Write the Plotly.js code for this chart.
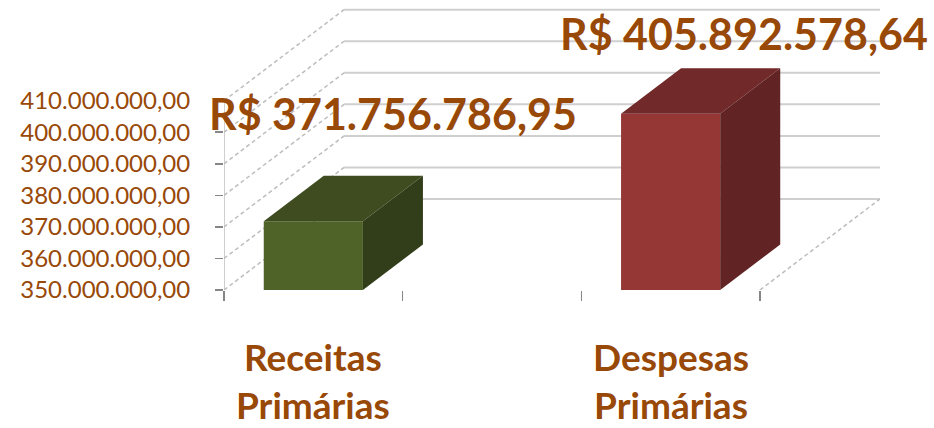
<!DOCTYPE html>
<html>
<head>
<meta charset="utf-8">
<script src="https://cdn.plot.ly/plotly-3.0.1.min.js"></script>
<style>html,body{margin:0;padding:0;background:#fff;}#chart{width:934px;height:428px;}</style>
</head>
<body>
<div id="chart"></div>
<script>
// ---- data ----
const categorySlots = ['Receitas<br>Primárias', '', 'Despesas<br>Primárias'];
const values = [371756786.95, null, 405892578.64];
const valueLabels = ['R$ 371.756.786,95', '', 'R$ 405.892.578,64'];
const yTickValues = [350000000, 360000000, 370000000, 380000000, 390000000, 400000000, 410000000];
const yTickLabels = ['350.000.000,00', '360.000.000,00', '370.000.000,00', '380.000.000,00', '390.000.000,00', '400.000.000,00', '410.000.000,00'];

// ---- styling / layout constants ----
const frontColors = ['#4F6228', null, '#953735'];
const topColors = ['#3E4C20', null, '#712929'];
const sideColors = ['#323E19', null, '#612323'];
const textColor = '#984807';
const yMin = 350000000, yMax = 440000000;
const nSlots = categorySlots.length;
const depthX = 0.672;          // wall depth in x units
const depthY = 28830000;       // wall depth in y units
const barWidth = 0.555;
const barDX = depthX * 0.5, barDY = depthY * 0.5;
const labelOffsets = [[0.446, 34300000], null, [0.41, 25500000]];

const xs = [], ys = [], cols = [];
values.forEach((v, i) => { if (v !== null) { xs.push(i + 0.5); ys.push(v); cols.push(frontColors[i]); } });

const shapes = [];
// back wall gridlines and left wall dashed lines
yTickValues.forEach(v => {
  shapes.push({type: 'line', layer: 'below', xref: 'x', yref: 'y', x0: depthX, x1: nSlots + depthX, y0: v + depthY, y1: v + depthY,
    line: {color: '#cfcfcf', width: 2}});
  shapes.push({type: 'line', layer: 'below', xref: 'x', yref: 'y', x0: 0, x1: depthX, y0: v, y1: v + depthY,
    line: {color: '#bdbdbd', width: 1.5, dash: '4px,3px'}});
});
// floor right edge
shapes.push({type: 'line', layer: 'below', xref: 'x', yref: 'y', x0: nSlots, x1: nSlots + depthX, y0: yMin, y1: yMin + depthY,
  line: {color: '#bdbdbd', width: 1.5, dash: '4px,3px'}});
// y axis line
shapes.push({type: 'line', layer: 'below', xref: 'x', yref: 'y', x0: 0, x1: 0, y0: yMin, y1: yTickValues[yTickValues.length - 1],
  line: {color: '#bfbfbf', width: 1.5}});

// 3D faces of bars
values.forEach((v, i) => {
  if (v === null) return;
  const x0 = i + 0.5 - barWidth / 2, x1 = i + 0.5 + barWidth / 2;
  shapes.push({type: 'path', layer: 'above', xref: 'x', yref: 'y',
    path: `M ${x0} ${v} L ${x1} ${v} L ${x1 + barDX} ${v + barDY} L ${x0 + barDX} ${v + barDY} Z`,
    fillcolor: topColors[i], line: {width: 0}});
  shapes.push({type: 'path', layer: 'above', xref: 'x', yref: 'y',
    path: `M ${x1} ${yMin} L ${x1} ${v} L ${x1 + barDX} ${v + barDY} L ${x1 + barDX} ${yMin + barDY} Z`,
    fillcolor: sideColors[i], line: {width: 0}});
});

const annotations = [];
values.forEach((v, i) => {
  if (v === null) return;
  annotations.push({xref: 'x', yref: 'y', x: i + 0.5 + labelOffsets[i][0], y: v + labelOffsets[i][1],
    text: valueLabels[i], showarrow: false, xanchor: 'center', yanchor: 'middle',
    font: {family: 'Lato', size: 43, color: textColor, weight: 'bold'}});
});
categorySlots.forEach((c, i) => {
  if (!c) return;
  annotations.push({xref: 'x', yref: 'paper', x: i + 0.5, y: 0, yanchor: 'top', xanchor: 'center', yshift: -42,
    text: '<b>' + c.replace('<br>', '</b><br><b>') + '</b>', showarrow: false,
    font: {family: 'Lato', size: 37, color: textColor}});
});

const trace = {type: 'bar', x: xs, y: ys, width: barWidth, marker: {color: cols, line: {width: 0}}, hoverinfo: 'skip'};

const layout = {
  width: 934, height: 428,
  margin: {l: 224, r: 54, t: 6, b: 138},
  paper_bgcolor: '#fff', plot_bgcolor: 'rgba(0,0,0,0)',
  showlegend: false,
  xaxis: {range: [0, nSlots + depthX], tickvals: [0, 1, 2, 3], ticktext: ['', '', '', ''], ticks: 'outside', ticklen: 10,
    tickcolor: '#868686', tickwidth: 1.5, showgrid: false, zeroline: false, showline: false, fixedrange: true},
  yaxis: {range: [yMin, yMax], tickvals: yTickValues, ticktext: yTickLabels, ticks: 'outside', ticklen: 8,
    tickcolor: '#868686', tickwidth: 1.5, showgrid: false, zeroline: false, showline: false, ticklabelstandoff: 20,
    tickfont: {family: 'Lato', size: 24, color: textColor}, fixedrange: true},
  shapes: shapes,
  annotations: annotations
};

Plotly.newPlot('chart', [trace], layout, {displayModeBar: false, staticPlot: true});
</script>
</body>
</html>
